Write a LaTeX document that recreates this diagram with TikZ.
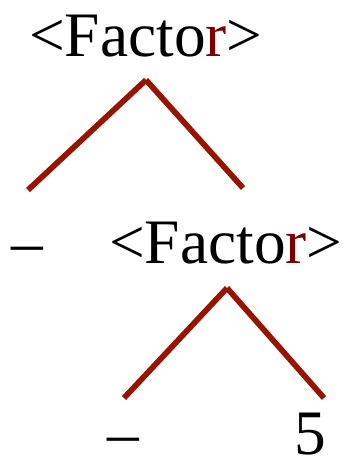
\documentclass[tikz,border=0pt]{standalone}
\usepackage{fontspec}
\setmainfont{Liberation Serif}
\begin{document}
\begin{tikzpicture}[x=0.75pt, y=-0.75pt]
    \definecolor{branch}{RGB}{150,20,0}
    \definecolor{tailr}{RGB}{125,0,0}
    \tikzset{sym/.style={anchor=base west, inner sep=0pt, font=\fontsize{47.5}{50}\selectfont},
             edge/.style={branch, line width=4.3pt}}
    \useasboundingbox (0,0) rectangle (346,459);

    % upper factor and its children
    \node[sym] (f1) at (29,57) {<Facto\textcolor{tailr}{r}>};
    \node[sym] (m1) at (11,263) {–};
    \node[sym] (f2) at (109,263) {<Facto\textcolor{tailr}{r}>};
    % lower children
    \node[sym] (m2) at (107,454) {–};
    \node[sym] (n5) at (294,454) {5};

    % branch points
    \coordinate (top1) at (146,80);
    \coordinate (l1) at (28,190);
    \coordinate (r1) at (243,188);
    \coordinate (top2) at (227,288);
    \coordinate (l2) at (124,398);
    \coordinate (r2) at (324,398);

    \draw[edge] (top1) -- (l1);
    \draw[edge] (top1) -- (r1);
    \draw[edge] (top2) -- (l2);
    \draw[edge] (top2) -- (r2);
\end{tikzpicture}
\end{document}
